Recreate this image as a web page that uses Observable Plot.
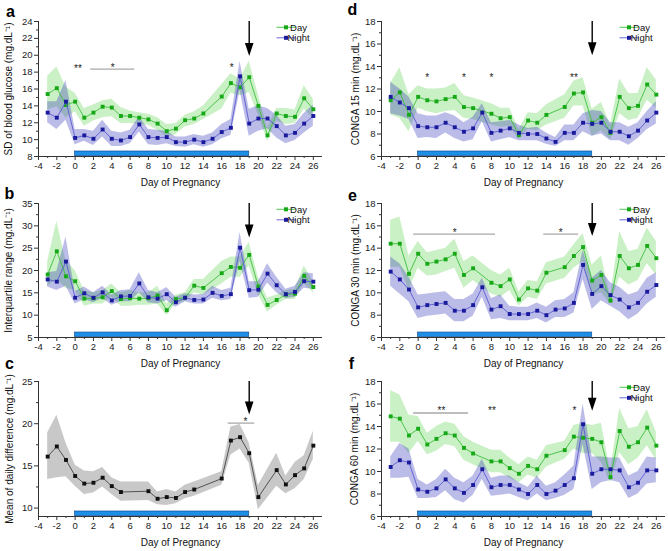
<!DOCTYPE html>
<html><head><meta charset="utf-8">
<script src="https://cdn.jsdelivr.net/npm/d3@7"></script>
<script src="https://cdn.jsdelivr.net/npm/@observablehq/plot@0.6"></script>
<style>
body{margin:0;background:#fff;}
#root{position:relative;width:668px;height:551px;overflow:hidden;}
#root svg{position:absolute;overflow:visible;background:transparent;}
</style></head><body><div id="root"></div>
<script>
// ---------- data ----------
const days = [-3,-2,-1,0,1,2,3,4,5,6,7,8,9,10,11,12,13,14,15,16,17,18,19,20,21,22,23,24,25,26];
const xTicks = [-4,-2,0,2,4,6,8,10,12,14,16,18,20,22,24,26];
const xMinorTicks = [-3,-1,1,3,5,7,9,11,13,15,17,19,21,23,25];
const treatment = [0, 19];
const arrowDay = 19;
const seriesNames = ["Day", "Night"];

// a: SD of blood glucose
const aDay     = [15.4,16.1,14.1,14.5,12.6,13.2,13.9,13.8,12.8,12.8,12.6,12.4,11.9,11.0,11.3,12.3,12.5,13.1,null,15.1,16.7,16.2,17.4,14.0,10.5,13.1,12.8,12.7,14.9,13.6];
const aDayHi   = [17.5,18.6,16.2,15.5,13.7,14.1,14.6,14.8,13.8,13.4,13.2,13.0,12.6,11.8,11.9,12.9,13.3,14.0,null,16.5,17.8,17.2,19.3,15.3,11.4,13.7,13.7,13.5,16.4,14.8];
const aDayLo   = [13.5,13.9,12.6,13.3,11.6,12.2,12.6,12.7,11.9,11.9,11.8,11.7,11.1,10.3,10.6,11.5,11.8,12.4,null,13.6,15.5,15.2,15.6,12.9,9.8,12.2,11.8,11.9,13.6,12.5];
const aNight   = [13.2,12.6,14.5,10.2,10.5,10.1,11.2,10.1,9.9,10.3,11.8,10.3,10.2,10.3,9.7,9.7,10.0,9.7,10.1,10.9,11.4,17.5,11.9,12.5,12.5,11.6,10.5,10.8,11.9,12.8];
const aNightHi = [14.5,14.5,17.0,11.2,11.2,11.0,12.3,11.0,10.8,11.1,12.7,11.2,11.1,11.0,10.3,10.3,10.6,10.4,10.8,11.8,12.4,19.3,13.6,14.0,13.7,12.9,11.6,11.8,13.1,14.1];
const aNightLo = [12.0,11.2,12.3,9.4,9.8,9.3,10.3,9.2,9.2,9.5,10.9,9.4,9.3,9.5,9.2,9.1,9.4,9.1,9.4,10.1,10.5,15.8,10.4,11.0,11.3,10.2,9.5,9.9,10.8,11.6];

// b: Interquartile range
const bDay     = [19.1,24.3,18.7,17.6,13.7,13.8,14.0,15.4,13.6,13.8,13.7,13.8,14.4,11.1,13.6,13.9,16.6,16.1,null,19.4,20.8,20.6,23.5,16.4,12.3,13.4,14.6,14.8,18.8,16.3];
const bDayHi   = [22,31,22,20,15.5,15,15.5,17,15,15.5,15,15,16.5,12.5,14.5,15,18,18,null,22,23,23,26.3,18.5,13.8,14.5,15.5,15.8,21,17.5];
const bDayLo   = [16.5,18,16,15.5,12,12.5,12.5,14,12,12,12.2,12.2,12.5,10,12.5,13,15,14.5,null,17,18.5,18.5,21,14.5,10.7,12.2,13.5,13.5,17,15];
const bNight   = [18.0,17.5,22.0,13.9,14.9,13.9,15.1,13.3,14.2,14.3,17.1,14.0,13.7,14.7,12.9,13.9,13.4,13.5,15.0,14.3,14.7,25.1,15.6,15.7,19.3,16.7,14.7,15.2,17.6,17.5];
const bNightHi = [19.5,19.8,27.5,15.3,16.3,15,16.5,14.5,15.5,15.7,19.5,15.5,15,16.2,14,14.8,14.5,14.6,16.5,15.5,16,28.5,17.5,17.5,21.5,18.5,15.8,16.5,19.5,19.3];
const bNightLo = [16.3,15.5,16.5,12.5,13.5,12.8,13.8,12.2,13,13,15,12.8,12.5,13.3,11.8,13,12.5,12.5,13.8,13.2,13.5,22,13.8,14,17.2,15,13.7,14,16,15.8];

// c: Mean of daily difference
const cMean = [16.1,17.3,15.7,13.8,12.9,13.0,13.6,12.6,11.9,null,null,12.0,11.1,11.3,11.2,11.9,12.2,null,null,13.5,18.0,18.4,16.5,11.3,null,14.5,12.8,13.9,14.7,17.4];
const cHi   = [18.9,21.0,17.7,15.1,14.4,14.3,14.8,13.6,13.1,null,null,13.1,11.9,12.2,11.9,12.7,13.1,null,null,14.3,19.6,19.9,17.7,12.7,null,16.5,13.8,15.4,16.2,19.1];
const cLo   = [13.4,13.6,13.7,12.6,11.6,11.8,12.5,11.6,10.8,null,null,10.9,10.4,10.3,10.5,11.1,11.4,null,null,12.7,16.3,17.0,15.3,9.8,null,12.6,11.7,12.3,13.4,15.8];

// d: CONGA 15 min
const dDay     = [11.0,11.7,9.7,11.3,11.0,10.9,11.1,11.3,10.4,10.3,null,9.8,9.4,9.5,7.9,9.2,9.0,9.7,null,10.4,11.6,11.7,9.0,9.5,8.1,11.3,10.3,10.5,12.4,11.5];
const dDayHi   = [12.5,13.9,11.5,12.3,12.0,12.0,12.1,12.5,11.4,11.2,null,10.7,10.3,10.3,8.4,9.9,9.8,10.6,null,11.5,12.7,13.0,10.2,10.8,8.8,12.9,11.6,11.6,13.9,12.8];
const dDayLo   = [9.7,9.4,8.2,10.3,10.0,9.8,10.0,10.1,9.4,9.3,null,8.8,8.6,8.7,7.5,8.4,8.3,8.8,null,9.4,10.5,10.5,7.8,8.3,7.5,9.8,9.2,9.4,11.0,10.3];
const dNight   = [11.3,10.8,10.3,8.7,8.6,8.6,9.0,8.6,8.2,8.5,9.9,8.1,8.3,8.5,8.1,8.0,8.0,7.6,7.3,8.1,8.1,9.0,8.9,9.0,8.2,8.2,7.8,8.3,9.2,9.9];
const dNightHi = [12.6,12.0,11.3,9.8,9.6,9.6,9.9,9.6,9.0,9.5,10.7,9.0,9.1,9.2,8.8,8.5,8.6,8.1,7.7,8.8,8.8,9.8,10.1,10.0,9.0,9.0,8.6,9.0,10.0,10.9];
const dNightLo = [9.8,9.6,9.3,7.6,7.7,7.6,8.1,7.6,7.3,7.5,9.1,7.3,7.5,7.7,7.4,7.4,7.4,7.1,6.9,7.4,7.4,8.2,7.8,8.0,7.4,7.4,7.0,7.6,8.4,8.9];

// e: CONGA 30 min
const eDay     = [14.4,14.4,11.7,13.5,12.6,12.8,13.0,13.5,11.6,12.2,null,10.9,10.6,11.2,9.4,10.4,10.2,11.8,null,12.3,13.3,14.1,11.1,11.6,9.3,13.3,12.2,12.5,14.2,13.1];
const eDayHi   = [16.5,16.8,13.3,14.6,13.6,13.8,14.0,14.8,12.8,13.3,null,12.0,11.6,12.2,10.1,11.1,11.0,12.7,null,13.2,14.3,15.3,12.5,13.3,9.6,15.5,13.7,13.9,15.8,14.6];
const eDayLo   = [12.3,12.3,10.3,12.2,11.5,11.6,11.9,12.2,10.4,11.1,null,9.9,9.6,10.2,8.8,9.6,9.4,10.8,null,11.3,12.2,12.8,9.8,10.0,9.0,11.4,10.7,11.1,12.6,11.6];
const eNight   = [11.9,11.2,10.3,8.7,8.9,9.0,9.1,8.4,8.4,8.9,10.5,8.5,8.8,8.1,8.1,8.1,8.4,8.0,8.5,8.6,9.1,12.5,9.9,10.6,9.8,9.4,8.7,9.1,10.1,10.7];
const eNightHi = [13.2,12.6,11.4,9.8,9.9,10.0,10.1,9.4,9.4,9.9,11.3,9.5,9.8,8.8,8.7,8.7,9.1,8.7,9.3,9.4,10.0,13.8,11.3,12.0,10.9,10.5,9.8,10.1,11.3,11.8];
const eNightLo = [10.6,9.9,9.2,7.7,7.9,8.0,8.1,7.4,7.4,7.9,9.6,7.6,7.7,7.5,7.5,7.5,7.7,7.3,7.8,7.8,8.2,11.2,8.5,9.3,8.8,8.3,7.6,8.1,9.0,9.6];

// f: CONGA 60 min
const fDay     = [14.9,14.7,13.2,13.8,12.4,12.9,13.4,13.2,12.1,11.6,null,10.9,10.9,10.3,9.8,10.5,10.2,11.4,null,11.9,13.1,13.0,12.9,12.6,9.5,13.6,12.2,12.6,13.9,12.3];
const fDayHi   = [17.2,16.8,15.0,14.9,13.4,14.0,14.4,14.2,13.1,12.6,null,11.9,11.9,11.2,10.6,11.3,11.0,12.3,null,12.7,14.1,14.3,14.1,14.3,10.0,15.6,13.8,14.0,15.5,13.5];
const fDayLo   = [12.6,12.6,11.6,12.7,11.5,11.8,12.4,12.2,11.0,10.6,null,9.9,9.9,9.4,9.0,9.7,9.4,10.4,null,11.1,12.0,11.6,11.6,10.8,9.0,11.7,10.6,11.2,12.3,11.0];
const fNight   = [10.4,11.0,10.8,8.4,8.2,8.5,9.3,8.5,8.1,8.8,10.2,8.6,8.8,8.8,8.4,8.0,8.8,8.0,8.3,8.8,9.4,14.2,9.8,10.2,10.2,10.1,8.6,9.0,10.1,10.1];
const fNightHi = [11.3,12.5,12.0,9.3,8.8,9.3,10.2,9.4,9.0,9.6,11.1,9.4,9.6,9.6,9.0,8.6,9.6,8.7,9.0,9.7,10.5,16.0,11.3,11.3,11.2,11.2,9.6,10.0,11.3,11.2];
const fNightLo = [9.4,9.4,9.5,7.6,7.6,7.7,8.3,7.5,7.2,7.9,9.3,7.8,7.9,8.0,7.7,7.4,8.0,7.4,7.6,7.9,8.4,12.4,8.4,9.0,9.2,9.0,7.6,8.0,8.9,9.0];

// significance annotations
const aSigLines = [{x1:1.65, x2:6.45, y:18.35}];
const aSigStars = [{x:0.3, y:18.75, t:"**"}, {x:4.1, y:18.8, t:"*"}, {x:17.1, y:18.8, t:"*"}];
const cSigLines = [{x1:16.65, x2:19.55, y:20.07}];
const cSigStars = [{x:18.6, y:20.5, t:"*"}];
const dSigStars = [{x:1, y:13.25, t:"*"}, {x:5, y:13.25, t:"*"}, {x:8, y:13.25, t:"*"}, {x:17, y:13.25, t:"**"}];
const eSigLines = [{x1:-0.55, x2:8.4, y:15.25}, {x1:13.65, x2:17.45, y:15.25}];
const eSigStars = [{x:4, y:15.6, t:"*"}, {x:15.55, y:15.6, t:"*"}];
const fSigLines = [{x1:-0.55, x2:5.45, y:15.2}];
const fSigStars = [{x:2.55, y:15.6, t:"**"}, {x:8.05, y:15.6, t:"**"}, {x:17.05, y:15.6, t:"*"}];

// ---------- styling / layout ----------
const FONT = "'Liberation Sans', Arial, Helvetica, sans-serif";
const DAY = {line:"#3cbf3c", marker:"#17a817", band:"#5ed24e", op:0.33};
const NIGHT = {line:"#5a5ad2", marker:"#1a1a9c", band:"#3434b8", op:0.33};
const MEAN = {line:"#444444", marker:"#111111", band:"#9a9a9a", op:0.55};

const cols = [{left:0, width:334, ml:38, mr:12}, {left:334, width:334, ml:47, mr:3}];
const rowsL = [{top:0, height:188, mt:21, mb:32}, {top:178, height:192, mt:25, mb:33}, {top:355, height:196, mt:26, mb:35}];

function toRows(v, lo, hi) {
  return days.map((d, i) => ({day:d, v:v[i], lo:lo[i], hi:hi[i]})).filter(r => r.v != null);
}

const arrowHead = {draw(ctx) { ctx.moveTo(0, 0); ctx.lineTo(-4.3, -13); ctx.lineTo(4.3, -13); ctx.closePath(); }};

const panels = [
  {id:"a", col:0, row:0, y:[8,24], yTicks:d3.range(8,25,2), yMinor:d3.range(9,24,2), title:"SD of blood glucose (mg.dL⁻¹)",
   series:[{name:seriesNames[0], s:DAY, data:toRows(aDay,aDayLo,aDayHi)},{name:seriesNames[1], s:NIGHT, data:toRows(aNight,aNightLo,aNightHi)}],
   lines:aSigLines, stars:aSigStars, tip:19.9, legend:true, titleDx:-30, letter:[-28,-10]},
  {id:"b", col:0, row:1, y:[5,35], yTicks:d3.range(5,36,5), yMinor:d3.range(7.5,35,5), title:"Interquartile range (mg.dL⁻¹)",
   series:[{name:seriesNames[0], s:DAY, data:toRows(bDay,bDayLo,bDayHi)},{name:seriesNames[1], s:NIGHT, data:toRows(bNight,bNightLo,bNightHi)}],
   lines:[], stars:[], tip:27.4, legend:true, titleDx:-30, letter:[-29,-10]},
  {id:"c", col:0, row:2, y:[9,25], yTicks:[10,15,20,25], yMinor:[12.5,17.5,22.5], title:"Mean of daily difference (mg.dL⁻¹)",
   series:[{name:"", s:MEAN, data:toRows(cMean,cLo,cHi)}],
   lines:cSigLines, stars:cSigStars, tip:21.1, legend:false, titleDx:-29, letter:[-29,-18]},
  {id:"d", col:1, row:0, y:[6,18], yTicks:d3.range(6,19,2), yMinor:d3.range(7,18,2), title:"CONGA 15 min (mg.dL⁻¹)",
   series:[{name:seriesNames[0], s:DAY, data:toRows(dDay,dDayLo,dDayHi)},{name:seriesNames[1], s:NIGHT, data:toRows(dNight,dNightLo,dNightHi)}],
   lines:[], stars:dSigStars, tip:15.0, legend:true, titleDx:-26, letter:[-29,-12]},
  {id:"e", col:1, row:1, y:[6,18], yTicks:d3.range(6,19,2), yMinor:d3.range(7,18,2), title:"CONGA 30 min (mg.dL⁻¹)",
   series:[{name:seriesNames[0], s:DAY, data:toRows(eDay,eDayLo,eDayHi)},{name:seriesNames[1], s:NIGHT, data:toRows(eNight,eNightLo,eNightHi)}],
   lines:eSigLines, stars:eSigStars, tip:15.1, legend:true, titleDx:-26, letter:[-29,-8]},
  {id:"f", col:1, row:2, y:[6,18], yTicks:d3.range(6,19,2), yMinor:d3.range(7,18,2), title:"CONGA 60 min (mg.dL⁻¹)",
   series:[{name:seriesNames[0], s:DAY, data:toRows(fDay,fDayLo,fDayHi)},{name:seriesNames[1], s:NIGHT, data:toRows(fNight,fNightLo,fNightHi)}],
   lines:fSigLines, stars:fSigStars, tip:15.4, legend:true, titleDx:-27, letter:[-30,-18]}
];

function build(p) {
  const col = cols[p.col], row = rowsL[p.row];
  const [y0, y1] = p.y, span = y1 - y0;
  const marks = [];
  for (const s of p.series)
    marks.push(Plot.areaY(s.data, {x:"day", y1:"lo", y2:"hi", fill:s.s.band, fillOpacity:s.s.op}));
  marks.push(Plot.rect([treatment], {x1:d => d[0], x2:d => d[1], y1:() => y0 + span*0.004, y2:() => y0 + span*0.037,
    fill:"#1e8fe6", stroke:"#0d4f9a", strokeWidth:0.7}));
  for (const s of p.series) {
    marks.push(Plot.line(s.data, {x:"day", y:"v", stroke:s.s.line, strokeWidth:0.9}));
    marks.push(Plot.dot(s.data, {x:"day", y:"v", symbol:"square", r:2.2, fill:s.s.marker}));
  }
  marks.push(Plot.link(p.lines, {x1:"x1", x2:"x2", y1:"y", y2:"y", stroke:"#a8a8a8", strokeWidth:1.3}));
  marks.push(Plot.text(p.stars, {x:"x", y:"y", text:"t", fontSize:10, dy:2.5, fill:"#222"}));
  marks.push(Plot.ruleX([arrowDay], {y1:() => y1, y2:() => p.tip + span*0.02, stroke:"#000", strokeWidth:1.4}));
  marks.push(Plot.dot([arrowDay], {x:d => d, y:() => p.tip, symbol:arrowHead, fill:"#000"}));
  // axes
  marks.push(Plot.ruleY([y0], {stroke:"#333", strokeWidth:1}));
  marks.push(Plot.ruleX([-4], {stroke:"#333", strokeWidth:1}));
  marks.push(Plot.axisX(xTicks, {tickSize:4, tickPadding:1.5, label:null, stroke:"#333", fill:"#222", fontSize:9.5, tickFormat:d => String(d)}));
  marks.push(Plot.axisX(xMinorTicks, {tickSize:2, label:null, stroke:"#333", tickFormat:() => ""}));
  marks.push(Plot.axisY(p.yTicks, {tickSize:4, tickPadding:2, label:null, stroke:"#333", fill:"#222", fontSize:9.5, tickFormat:d => String(d)}));
  marks.push(Plot.axisY(p.yMinor, {tickSize:2, label:null, stroke:"#333", tickFormat:() => ""}));
  // titles
  marks.push(Plot.text(["Day of Pregnancy"], {text:d => d, frameAnchor:"bottom", textAnchor:"middle", lineAnchor:"middle", dy:26, fontSize:10, fill:"#111"}));
  marks.push(Plot.text([p.title], {text:d => d, frameAnchor:"left", textAnchor:"middle", lineAnchor:"middle", dx:p.titleDx, rotate:-90, fontSize:10, fill:"#111"}));
  marks.push(Plot.text([p.id], {text:d => d, frameAnchor:"top-left", textAnchor:"middle", lineAnchor:"middle", dx:p.letter[0], dy:p.letter[1], fontSize:16, fontWeight:"bold", fill:"#000"}));
  // legend
  if (p.legend) {
    const items = p.series;
    marks.push((index, scales, values, dims) => {
      const g = d3.create("svg:g");
      const right = dims.width - dims.marginRight, top = dims.marginTop;
      items.forEach((it, i) => {
        const y = top + 6.3 + i * 10.5;
        g.append("line").attr("x1", right - 45.5).attr("x2", right - 26.5).attr("y1", y).attr("y2", y)
          .attr("stroke", it.s.line).attr("stroke-width", 0.9);
        g.append("rect").attr("x", right - 38).attr("y", y - 2).attr("width", 4).attr("height", 4).attr("fill", it.s.marker);
        g.append("text").attr("x", right - 23.5).attr("y", y).attr("dy", "0.35em").attr("font-size", 9.5)
          .attr("fill", "#111").text(it.name);
      });
      return g.node();
    });
  }
  const svg = Plot.plot({
    width:col.width, height:row.height,
    marginLeft:col.ml, marginRight:col.mr, marginTop:row.mt, marginBottom:row.mb,
    x:{domain:[-4, 27]},
    y:{domain:p.y},
    style:{fontFamily:FONT, fontSize:"9.5px", color:"#222", background:"transparent", overflow:"visible"},
    marks
  });
  svg.style.left = col.left + "px";
  svg.style.top = row.top + "px";
  return svg;
}

const root = document.getElementById("root");
for (const p of panels) root.appendChild(build(p));
</script>
</body></html>
